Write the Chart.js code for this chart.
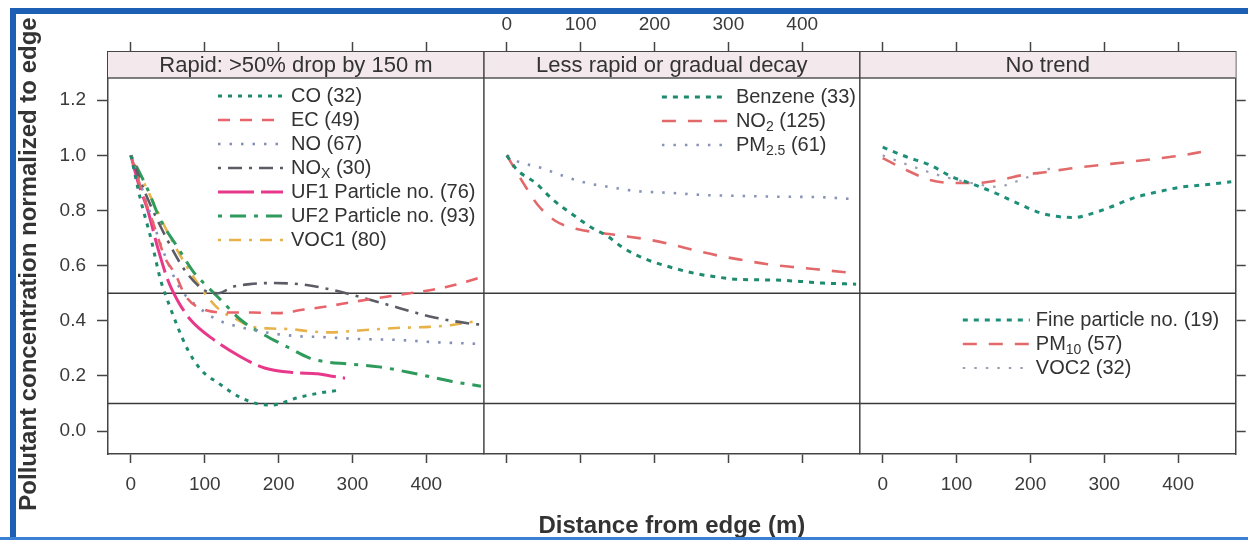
<!DOCTYPE html>
<html>
<head>
<meta charset="utf-8">
<script src="https://cdn.jsdelivr.net/npm/chart.js@4.4.1/dist/chart.umd.min.js"></script>
<style>
  html, body { margin: 0; padding: 0; background: #fff; }
  #wrap { width: 1248px; height: 540px; position: relative; }
</style>
</head>
<body>
<div id="wrap"><canvas id="trendChart" width="1248" height="540"></canvas></div>
<script>
// tick values and reference lines
var xTicks = [0, 100, 200, 300, 400];
var yTicks = [0, 0.2, 0.4, 0.6, 0.8, 1.0, 1.2];
var refLines = [0.5, 0.1];
var panelTitles = ["Rapid: >50% drop by 150 m", "Less rapid or gradual decay", "No trend"];
var xTitle = "Distance from edge (m)";
var yTitle = "Pollutant concentration normalized to edge";

// panel 1 - rapid
var coDist = [0, 13, 27, 40, 53, 63, 77, 95, 118, 149, 176, 192, 224, 255, 278];
var coConc = [1.0, 0.84, 0.70, 0.55, 0.45, 0.38, 0.295, 0.222, 0.175, 0.121, 0.097, 0.095, 0.12, 0.138, 0.147];
var ecDist = [0, 15, 32, 46, 60, 74, 100, 134, 165, 200, 232, 265, 300, 332, 390, 427, 462, 478];
var ecConc = [1.0, 0.87, 0.74, 0.63, 0.57, 0.49, 0.44, 0.43, 0.43, 0.428, 0.44, 0.452, 0.468, 0.482, 0.505, 0.523, 0.548, 0.562];
var noDist = [0, 20, 40, 55, 66, 88, 118, 147, 190, 228, 260, 309, 359, 408, 472, 478];
var noConc = [1.0, 0.84, 0.68, 0.58, 0.52, 0.457, 0.403, 0.378, 0.355, 0.344, 0.341, 0.334, 0.331, 0.323, 0.316, 0.315];
var noxDist = [0, 20, 50, 74, 100, 118, 138, 161, 188, 228, 273, 319, 364, 408, 454, 478];
var noxConc = [1.0, 0.86, 0.69, 0.58, 0.51, 0.50, 0.523, 0.533, 0.537, 0.533, 0.512, 0.48, 0.446, 0.414, 0.392, 0.385];
var uf1Dist = [0, 10, 23, 36, 50, 63, 81, 113, 149, 181, 222, 253, 270, 290];
var uf1Conc = [1.0, 0.9, 0.8, 0.668, 0.548, 0.475, 0.403, 0.33, 0.269, 0.229, 0.212, 0.208, 0.2, 0.192];
var uf2Dist = [0, 23, 40, 63, 86, 104, 122, 149, 176, 212, 242, 265, 292, 336, 386, 435, 474];
var uf2Conc = [1.0, 0.875, 0.766, 0.668, 0.573, 0.523, 0.475, 0.403, 0.356, 0.305, 0.265, 0.251, 0.244, 0.233, 0.208, 0.18, 0.163];
var voc1Dist = [0, 25, 50, 75, 100, 120, 140, 162, 190, 216, 238, 269, 309, 359, 404, 435, 470];
var voc1Conc = [1.0, 0.86, 0.72, 0.6, 0.5, 0.44, 0.41, 0.38, 0.372, 0.37, 0.363, 0.358, 0.365, 0.374, 0.378, 0.385, 0.40];

// panel 2 - gradual
var benzDist = [0, 13, 39, 63, 90, 118, 134, 158, 188, 216, 253, 284, 316, 361, 397, 428, 473];
var benzConc = [1.0, 0.95, 0.9, 0.838, 0.784, 0.733, 0.711, 0.664, 0.624, 0.599, 0.573, 0.559, 0.55, 0.548, 0.543, 0.537, 0.533];
var no2Dist = [0, 27, 42, 66, 95, 127, 158, 195, 226, 257, 289, 320, 351, 384, 419, 455, 470];
var no2Conc = [1.0, 0.88, 0.82, 0.762, 0.733, 0.719, 0.708, 0.693, 0.675, 0.654, 0.635, 0.62, 0.606, 0.596, 0.587, 0.577, 0.573];
var pm25Dist = [0, 13, 47, 77, 108, 140, 174, 222, 270, 320, 370, 419, 466];
var pm25Conc = [1.0, 0.98, 0.954, 0.925, 0.9, 0.885, 0.871, 0.864, 0.856, 0.853, 0.85, 0.849, 0.842];

// panel 3 - no trend
var fineDist = [0, 32, 64, 94, 122, 152, 182, 214, 245, 260, 277, 309, 340, 373, 404, 435, 472];
var fineConc = [1.03, 0.995, 0.965, 0.922, 0.896, 0.864, 0.827, 0.791, 0.776, 0.775, 0.784, 0.813, 0.846, 0.868, 0.885, 0.893, 0.904];
var pm10Dist = [0, 32, 64, 95, 128, 159, 190, 223, 258, 295, 332, 367, 400, 431];
var pm10Conc = [0.99, 0.947, 0.911, 0.9, 0.9, 0.911, 0.929, 0.94, 0.954, 0.965, 0.976, 0.987, 0.998, 1.012];
var voc2Dist = [0, 40, 80, 120, 156, 175, 205, 234];
var voc2Conc = [1.0, 0.96, 0.925, 0.9, 0.886, 0.9, 0.93, 0.96];

// legend text (name, subscript, count)
var legendNames = [
  ["CO", "EC", "NO", "NO", "UF1 Particle no.", "UF2 Particle no.", "VOC1"],
  ["Benzene", "NO", "PM"],
  ["Fine particle no.", "PM", "VOC2"]
];
var legendSubs = [
  ["", "", "", "X", "", "", ""],
  ["", "2", "2.5"],
  ["", "10", ""]
];
var legendCounts = [
  [32, 49, 67, 30, 76, 93, 80],
  [33, 125, 61],
  [19, 57, 32]
];

var FONT = '"Liberation Sans", Arial, Helvetica, sans-serif';
var STRIP_H = 26;
var panelAxes = ["x1", "x2", "x3"];

function pts(xs, ys) {
  return xs.map(function (x, i) { return { x: x, y: ys[i] }; });
}

// series: data arrays + style, panel index
var series = [
  { d: coDist, c: coConc, p: 0, color: "#1e8a6e", dash: [4, 6], w: 3 },
  { d: ecDist, c: ecConc, p: 0, color: "#e8646a", dash: [12, 10], w: 2.6 },
  { d: noDist, c: noConc, p: 0, color: "#8290b8", dash: [2.5, 9], w: 2.6 },
  { d: noxDist, c: noxConc, p: 0, color: "#5c5c66", dash: [3, 7, 14, 7], w: 2.6 },
  { d: uf1Dist, c: uf1Conc, p: 0, color: "#e8388a", dash: [36, 7], w: 3 },
  { d: uf2Dist, c: uf2Conc, p: 0, color: "#2e9a5c", dash: [4, 8, 16, 8], w: 3 },
  { d: voc1Dist, c: voc1Conc, p: 0, color: "#e8b24a", dash: [3, 8, 12, 8], w: 2.6 },
  { d: benzDist, c: benzConc, p: 1, color: "#1e8a6e", dash: [5, 6], w: 3 },
  { d: no2Dist, c: no2Conc, p: 1, color: "#e2686a", dash: [14, 12], w: 2.6 },
  { d: pm25Dist, c: pm25Conc, p: 1, color: "#8894b6", dash: [2.5, 9], w: 2.6 },
  { d: fineDist, c: fineConc, p: 2, color: "#1e8f78", dash: [5, 6], w: 3 },
  { d: pm10Dist, c: pm10Conc, p: 2, color: "#e26a6a", dash: [14, 12], w: 2.6 },
  { d: voc2Dist, c: voc2Conc, p: 2, color: "#9aa0b2", dash: [2.5, 9], w: 2.2 }
];

var counters = [0, 0, 0];
var datasets = series.map(function (s) {
  var k = counters[s.p]++;
  return {
    label: legendNames[s.p][k] + legendSubs[s.p][k],
    data: pts(s.d, s.c),
    xAxisID: panelAxes[s.p],
    yAxisID: "y",
    borderColor: s.color,
    borderDash: s.dash,
    borderWidth: s.w,
    borderCapStyle: "butt",
    pointRadius: 0,
    fill: false,
    cubicInterpolationMode: "monotone",
    panel: s.p,
    legendIndex: k
  };
});

function line(ctx, x1, y1, x2, y2) {
  ctx.beginPath();
  ctx.moveTo(x1, y1);
  ctx.lineTo(x2, y2);
  ctx.stroke();
}

// legend layout per panel: sample start, sample end, text start (from panel left), first row y
var legendPos = [
  { s: 110, e: 175, t: 183, y: 96 },
  { s: 178, e: 243, t: 252, y: 97 },
  { s: 103, e: 170, t: 176, y: 320 }
];

var latticePlugin = {
  id: "lattice",
  beforeDatasetsDraw: function (chart) {
    var ctx = chart.ctx, area = chart.chartArea, sc = chart.scales;
    ctx.save();
    ctx.strokeStyle = "#3a3a3a";
    ctx.lineWidth = 1.5;
    refLines.forEach(function (v) {
      var py = sc.y.getPixelForValue(v);
      line(ctx, area.left, py, area.right, py);
    });
    panelAxes.forEach(function (id, i) {
      var s = sc[id];
      ctx.fillStyle = "#f3e8eb";
      ctx.fillRect(s.left, area.top, s.right - s.left, STRIP_H);
      ctx.strokeStyle = "#555";
      ctx.lineWidth = 1.5;
      line(ctx, s.left, area.top + STRIP_H, s.right, area.top + STRIP_H);
      ctx.fillStyle = "#333";
      ctx.font = "22px " + FONT;
      ctx.textAlign = "center";
      ctx.textBaseline = "middle";
      ctx.fillText(panelTitles[i], (s.left + s.right) / 2, area.top + STRIP_H / 2 + 1);
      if (i > 0) {
        ctx.strokeStyle = "#444";
        line(ctx, s.left, area.top, s.left, area.bottom);
      }
    });
    ctx.restore();
  },
  afterDatasetsDraw: function (chart) {
    var ctx = chart.ctx;
    ctx.save();
    chart.data.datasets.forEach(function (ds) {
      var p = ds.panel, k = ds.legendIndex, pos = legendPos[p];
      var left = chart.scales[panelAxes[p]].left;
      var y = pos.y + k * 24;
      ctx.strokeStyle = ds.borderColor;
      ctx.lineWidth = ds.borderWidth;
      ctx.setLineDash(ds.borderDash);
      line(ctx, left + pos.s, y, left + pos.e, y);
      ctx.setLineDash([]);
      ctx.fillStyle = "#333";
      ctx.textAlign = "left";
      ctx.textBaseline = "middle";
      var x = left + pos.t;
      ctx.font = "20px " + FONT;
      ctx.fillText(legendNames[p][k], x, y);
      x += ctx.measureText(legendNames[p][k]).width;
      var sub = legendSubs[p][k];
      if (sub) {
        ctx.font = "14px " + FONT;
        ctx.fillText(sub, x, y + 6);
        x += ctx.measureText(sub).width;
        ctx.font = "20px " + FONT;
      }
      ctx.fillText(" (" + legendCounts[p][k] + ")", x, y);
    });
    ctx.restore();
  },
  afterDraw: function (chart) {
    var ctx = chart.ctx, area = chart.chartArea;
    ctx.save();
    ctx.fillStyle = "#333";
    ctx.font = "bold 24px " + FONT;
    ctx.textAlign = "center";
    ctx.textBaseline = "alphabetic";
    ctx.fillText(xTitle, (area.left + area.right) / 2, 533);
    ctx.translate(36, 264);
    ctx.rotate(-Math.PI / 2);
    ctx.fillText(yTitle, 0, 0);
    ctx.restore();
    // scanned page frame
    ctx.save();
    ctx.fillStyle = "#1d5fb4";
    ctx.fillRect(10, 8, 6, 532);
    ctx.fillRect(10, 8, 1238, 6);
    ctx.fillStyle = "#3a80d4";
    ctx.fillRect(0, 537, 1248, 3);
    ctx.restore();
  }
};

function xAxis(i, position, showLabels, weight) {
  return {
    type: "linear",
    position: position,
    stack: "panels",
    weight: weight,
    min: -31,
    max: 478,
    afterBuildTicks: function (scale) {
      scale.ticks = xTicks.map(function (v) { return { value: v }; });
    },
    afterFit: function (scale) {
      scale.height = position === "top" ? 52 : 86;
    },
    grid: { drawOnChartArea: false, drawTicks: true, tickLength: position === "top" ? 10 : 9, tickWidth: 1.5, tickColor: "#444" },
    border: { display: true, color: "#444", width: 1.5 },
    ticks: {
      display: showLabels,
      autoSkip: false,
      maxRotation: 0,
      minRotation: 0,
      padding: position === "top" ? 5.5 : 10.5,
      color: "#3a3a3a",
      font: { family: FONT, size: 19 },
      callback: function (v) { return String(v); }
    }
  };
}

var yRange = { min: -0.083, max: 1.375 };

var ctx = document.getElementById("trendChart").getContext("2d");
var trendChart = new Chart(ctx, {
  type: "line",
  data: { datasets: datasets },
  plugins: [latticePlugin],
  options: {
    responsive: false,
    animation: false,
    events: [],
    layout: { padding: 0 },
    plugins: { legend: { display: false }, tooltip: { enabled: false } },
    scales: {
      x1: xAxis(0, "bottom", true, 1),
      x2: xAxis(1, "bottom", false, 2),
      x3: xAxis(2, "bottom", true, 3),
      x1t: xAxis(0, "top", false, 3),
      x2t: xAxis(1, "top", true, 2),
      x3t: xAxis(2, "top", false, 1),
      y: {
        type: "linear",
        position: "left",
        min: yRange.min,
        max: yRange.max,
        afterBuildTicks: function (scale) {
          scale.ticks = yTicks.map(function (v) { return { value: v }; });
        },
        afterFit: function (scale) { scale.width = 108; },
        grid: { drawOnChartArea: false, drawTicks: true, tickLength: 11, tickWidth: 1.5, tickColor: "#444" },
        border: { display: true, color: "#444", width: 1.5 },
        ticks: {
          padding: 11,
          color: "#3a3a3a",
          font: { family: FONT, size: 19 },
          callback: function (v) { return v.toFixed(1); }
        }
      },
      yr: {
        type: "linear",
        position: "right",
        min: yRange.min,
        max: yRange.max,
        afterBuildTicks: function (scale) {
          scale.ticks = yTicks.map(function (v) { return { value: v }; });
        },
        afterFit: function (scale) { scale.width = 10; },
        grid: { drawOnChartArea: false, drawTicks: true, tickLength: 10, tickWidth: 1.5, tickColor: "#444" },
        border: { display: true, color: "#444", width: 1.5 },
        ticks: { display: false }
      }
    }
  }
});
</script>
</body>
</html>
